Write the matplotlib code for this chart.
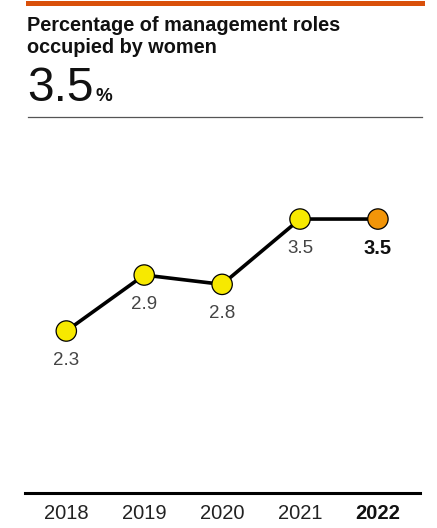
import numpy as np
import matplotlib.pyplot as plt

plt.rcParams['font.family'] = ['Liberation Sans', 'DejaVu Sans']

years = ['2018', '2019', '2020', '2021', '2022']
share = [2.3, 2.9, 2.8, 3.5, 3.5]
headline = '3.5'
title_lines = ['Percentage of management roles', 'occupied by women']

W, H = 437, 528
fig = plt.figure(figsize=(W / 100, H / 100), dpi=100)

def fx(px):
    return px / W

def fy(py):
    return 1 - py / H

# header: orange rule, title, headline figure, grey divider
fig.add_artist(plt.Line2D([fx(28), fx(422)], [fy(2.5), fy(2.5)], color='#d9500a', lw=3.6))
for line, base in zip(title_lines, [31, 53]):
    fig.text(fx(27), fy(base), line, fontsize=14.3, fontweight='bold', va='baseline',
             ha='left', color='#111111')
big = fig.text(fx(27), fy(101), headline, fontsize=34.5, va='baseline', ha='left', color='#111111')
fig.canvas.draw()
bb = big.get_window_extent()
fig.text((bb.x1 + 2) / W, fy(101), '%', fontsize=13.5, fontweight='bold', va='baseline',
         ha='left', color='#111111')
fig.add_artist(plt.Line2D([fx(28), fx(422)], [fy(117), fy(117)], color='#555555', lw=0.9))

# chart area
ax = fig.add_axes([fx(25), fy(493), fx(420) - fx(25), (493 - 150) / H])
x = np.arange(len(years))
ax.plot(x, share, color='black', lw=2.6, zorder=2)
colors = ['#f7e900'] * (len(years) - 1) + ['#f29509']
ax.scatter(x, share, s=215, c=colors, edgecolors='black', linewidths=0.9, zorder=3)

for i, v in enumerate(share):
    last = i == len(share) - 1
    ax.annotate(f'{v:.1f}', (x[i], v), xytext=(0, -21), textcoords='offset points',
                ha='center', va='center', fontsize=14.5 if last else 13.5,
                fontweight='bold' if last else 'normal',
                color='#111111' if last else '#444444')

ax.set_xlim(-0.53, 4.54)
ax.set_ylim(0.564, 4.24)
ax.set_yticks([])
ax.set_xticks(x)
ax.set_xticklabels(years, fontsize=14.5, color='#222222')
ax.get_xticklabels()[-1].set_fontweight('bold')
ax.get_xticklabels()[-1].set_color('#111111')
ax.tick_params(axis='x', length=0, pad=8)
for s in ['top', 'left', 'right']:
    ax.spines[s].set_visible(False)
ax.spines['bottom'].set_linewidth(2.2)
ax.patch.set_alpha(0)

fig.savefig('out.png', dpi=100)
